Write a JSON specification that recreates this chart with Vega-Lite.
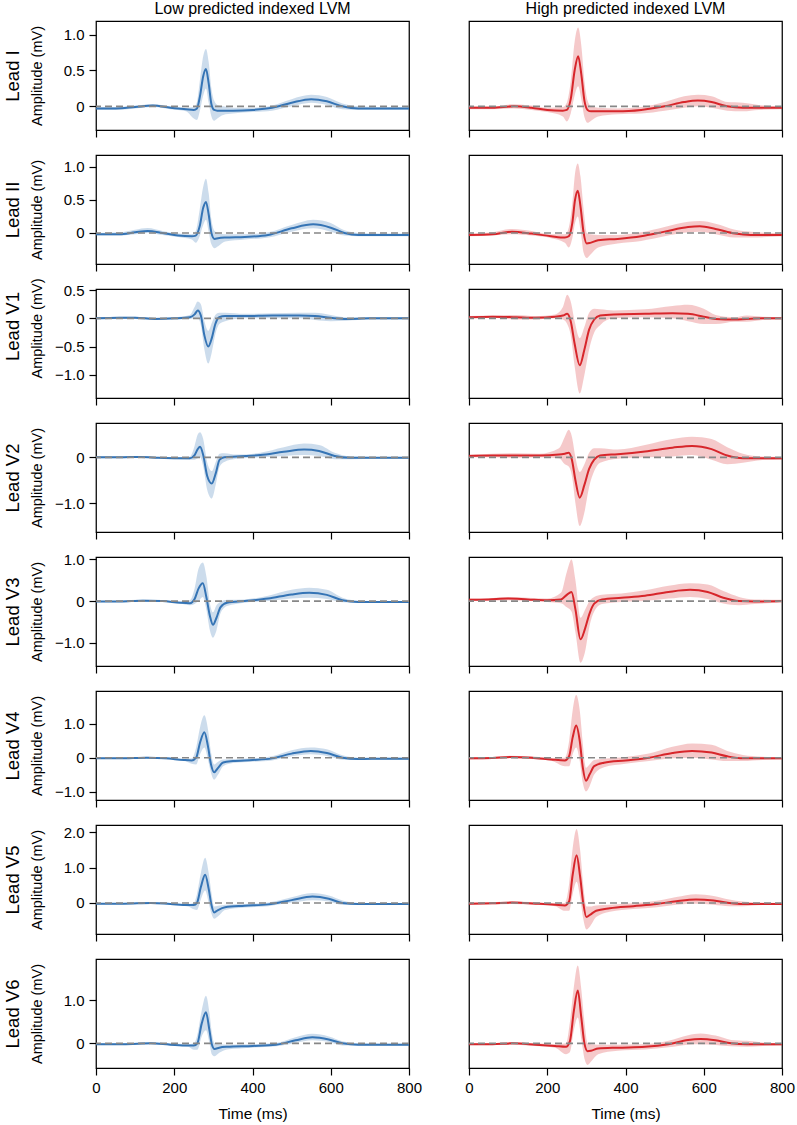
{
"$schema": "https://vega.github.io/schema/vega-lite/v6.json",
"padding": {"left": 2, "top": 0, "right": 5, "bottom": 5},
"config": {
 "font": "Liberation Sans",
 "view": {"stroke": "#000", "strokeWidth": 1.25},
 "axis": {"grid": false, "domain": false, "tickColor": "#000", "tickWidth": 1.2, "tickSize": 7, "labelColor": "#000", "labelFontSize": 15, "titleColor": "#000", "titleFontWeight": "normal", "titleFontSize": 14.5, "labelFlush": false, "labelOverlap": false, "labelPadding": 5},
 "title": {"fontSize": 16, "fontWeight": "normal", "color": "#000", "offset": 4},
 "area": {"fillOpacity": 0.25, "strokeOpacity": 0.3, "strokeWidth": 0.8, "interpolate": "monotone"},
 "line": {"strokeWidth": 2, "interpolate": "monotone"},
 "rule": {"color": "#878787", "strokeDash": [7, 4], "strokeWidth": 1.6}
},
"datasets": {
 "I_lo": [{"t":0,"m":-0.03,"lo":-0.05,"hi":-0.01},{"t":50,"m":-0.03,"lo":-0.05,"hi":-0.01},{"t":100,"m":-0.01,"lo":-0.03,"hi":0.01},{"t":145,"m":0.01,"lo":-0.01,"hi":0.03},{"t":190,"m":-0.02,"lo":-0.04,"hi":0.0},{"t":230,"m":-0.04,"lo":-0.07,"hi":-0.02},{"t":250,"m":-0.05,"lo":-0.17,"hi":-0.01},{"t":258,"m":-0.03,"lo":-0.19,"hi":0.06},{"t":266,"m":0.15,"lo":-0.05,"hi":0.38},{"t":274,"m":0.42,"lo":0.15,"hi":0.7},{"t":281,"m":0.52,"lo":0.25,"hi":0.8},{"t":288,"m":0.32,"lo":0.05,"hi":0.62},{"t":295,"m":0.03,"lo":-0.14,"hi":0.25},{"t":302,"m":-0.05,"lo":-0.2,"hi":0.08},{"t":310,"m":-0.06,"lo":-0.17,"hi":0.02},{"t":325,"m":-0.06,"lo":-0.12,"hi":0.0},{"t":350,"m":-0.06,"lo":-0.1,"hi":-0.02},{"t":400,"m":-0.05,"lo":-0.08,"hi":-0.02},{"t":450,"m":-0.02,"lo":-0.06,"hi":0.01},{"t":500,"m":0.05,"lo":0.0,"hi":0.1},{"t":550,"m":0.1,"lo":0.05,"hi":0.16},{"t":590,"m":0.07,"lo":0.02,"hi":0.13},{"t":630,"m":0.0,"lo":-0.04,"hi":0.04},{"t":670,"m":-0.03,"lo":-0.05,"hi":0.0},{"t":720,"m":-0.03,"lo":-0.05,"hi":-0.01},{"t":800,"m":-0.03,"lo":-0.05,"hi":-0.01}],
 "I_hi": [{"t":0,"m":-0.02,"lo":-0.04,"hi":0.0},{"t":60,"m":-0.02,"lo":-0.04,"hi":0.0},{"t":115,"m":0.0,"lo":-0.03,"hi":0.03},{"t":160,"m":-0.02,"lo":-0.05,"hi":0.01},{"t":200,"m":-0.05,"lo":-0.08,"hi":-0.02},{"t":240,"m":-0.06,"lo":-0.14,"hi":-0.01},{"t":250,"m":-0.05,"lo":-0.21,"hi":0.05},{"t":260,"m":0.1,"lo":-0.1,"hi":0.35},{"t":270,"m":0.5,"lo":0.15,"hi":0.9},{"t":279,"m":0.7,"lo":0.28,"hi":1.1},{"t":287,"m":0.45,"lo":0.1,"hi":0.85},{"t":295,"m":0.08,"lo":-0.15,"hi":0.35},{"t":303,"m":-0.05,"lo":-0.23,"hi":0.08},{"t":312,"m":-0.07,"lo":-0.2,"hi":0.0},{"t":330,"m":-0.07,"lo":-0.14,"hi":-0.02},{"t":380,"m":-0.07,"lo":-0.11,"hi":-0.03},{"t":440,"m":-0.05,"lo":-0.1,"hi":-0.01},{"t":500,"m":0.0,"lo":-0.06,"hi":0.06},{"t":550,"m":0.06,"lo":-0.02,"hi":0.14},{"t":585,"m":0.08,"lo":0.0,"hi":0.16},{"t":620,"m":0.06,"lo":-0.02,"hi":0.14},{"t":660,"m":0.0,"lo":-0.06,"hi":0.06},{"t":700,"m":-0.02,"lo":-0.07,"hi":0.05},{"t":740,"m":-0.02,"lo":-0.05,"hi":0.02},{"t":800,"m":-0.02,"lo":-0.04,"hi":0.0}],
 "II_lo": [{"t":0,"m":-0.02,"lo":-0.04,"hi":0.0},{"t":60,"m":-0.02,"lo":-0.04,"hi":0.01},{"t":100,"m":0.01,"lo":-0.02,"hi":0.05},{"t":132,"m":0.03,"lo":0.0,"hi":0.075},{"t":170,"m":0.0,"lo":-0.03,"hi":0.03},{"t":210,"m":-0.04,"lo":-0.06,"hi":-0.01},{"t":245,"m":-0.05,"lo":-0.1,"hi":-0.02},{"t":255,"m":-0.04,"lo":-0.15,"hi":0.03},{"t":265,"m":0.1,"lo":-0.05,"hi":0.35},{"t":274,"m":0.38,"lo":0.12,"hi":0.7},{"t":281,"m":0.47,"lo":0.2,"hi":0.82},{"t":288,"m":0.28,"lo":0.02,"hi":0.6},{"t":295,"m":0.0,"lo":-0.17,"hi":0.2},{"t":303,"m":-0.09,"lo":-0.23,"hi":0.03},{"t":312,"m":-0.08,"lo":-0.2,"hi":0.0},{"t":330,"m":-0.07,"lo":-0.13,"hi":-0.02},{"t":380,"m":-0.06,"lo":-0.1,"hi":-0.02},{"t":440,"m":-0.03,"lo":-0.07,"hi":0.01},{"t":500,"m":0.07,"lo":0.02,"hi":0.12},{"t":555,"m":0.13,"lo":0.07,"hi":0.2},{"t":600,"m":0.08,"lo":0.02,"hi":0.15},{"t":635,"m":0.0,"lo":-0.04,"hi":0.04},{"t":670,"m":-0.03,"lo":-0.05,"hi":0.0},{"t":740,"m":-0.03,"lo":-0.05,"hi":-0.01},{"t":800,"m":-0.03,"lo":-0.05,"hi":-0.01}],
 "II_hi": [{"t":0,"m":-0.03,"lo":-0.05,"hi":-0.01},{"t":60,"m":-0.02,"lo":-0.04,"hi":0.01},{"t":110,"m":0.02,"lo":-0.02,"hi":0.06},{"t":160,"m":-0.01,"lo":-0.04,"hi":0.03},{"t":210,"m":-0.05,"lo":-0.08,"hi":-0.02},{"t":245,"m":-0.07,"lo":-0.15,"hi":-0.02},{"t":255,"m":-0.05,"lo":-0.22,"hi":0.08},{"t":264,"m":0.15,"lo":-0.08,"hi":0.45},{"t":271,"m":0.5,"lo":0.15,"hi":0.9},{"t":278,"m":0.64,"lo":0.25,"hi":1.05},{"t":285,"m":0.4,"lo":0.05,"hi":0.85},{"t":293,"m":0.0,"lo":-0.3,"hi":0.35},{"t":301,"m":-0.16,"lo":-0.38,"hi":0.0},{"t":310,"m":-0.15,"lo":-0.33,"hi":-0.02},{"t":330,"m":-0.11,"lo":-0.22,"hi":-0.03},{"t":380,"m":-0.09,"lo":-0.16,"hi":-0.03},{"t":440,"m":-0.05,"lo":-0.12,"hi":0.01},{"t":500,"m":0.02,"lo":-0.05,"hi":0.09},{"t":560,"m":0.09,"lo":0.01,"hi":0.17},{"t":590,"m":0.1,"lo":0.02,"hi":0.18},{"t":630,"m":0.06,"lo":-0.02,"hi":0.14},{"t":680,"m":-0.01,"lo":-0.07,"hi":0.05},{"t":720,"m":-0.03,"lo":-0.07,"hi":0.02},{"t":800,"m":-0.03,"lo":-0.05,"hi":-0.01}],
 "V1_lo": [{"t":0,"m":0.0,"lo":-0.02,"hi":0.02},{"t":60,"m":0.01,"lo":-0.01,"hi":0.03},{"t":100,"m":0.01,"lo":-0.01,"hi":0.03},{"t":150,"m":-0.01,"lo":-0.03,"hi":0.01},{"t":200,"m":0.0,"lo":-0.02,"hi":0.02},{"t":240,"m":0.02,"lo":-0.01,"hi":0.06},{"t":252,"m":0.07,"lo":0.0,"hi":0.2},{"t":260,"m":0.14,"lo":0.0,"hi":0.3},{"t":268,"m":0.05,"lo":-0.12,"hi":0.25},{"t":277,"m":-0.3,"lo":-0.55,"hi":-0.05},{"t":287,"m":-0.5,"lo":-0.8,"hi":-0.22},{"t":296,"m":-0.35,"lo":-0.6,"hi":-0.08},{"t":305,"m":-0.1,"lo":-0.28,"hi":0.06},{"t":315,"m":0.02,"lo":-0.1,"hi":0.1},{"t":330,"m":0.04,"lo":-0.05,"hi":0.1},{"t":380,"m":0.04,"lo":0.0,"hi":0.08},{"t":450,"m":0.05,"lo":0.0,"hi":0.09},{"t":520,"m":0.05,"lo":0.0,"hi":0.1},{"t":560,"m":0.04,"lo":-0.03,"hi":0.1},{"t":600,"m":0.01,"lo":-0.05,"hi":0.06},{"t":640,"m":-0.01,"lo":-0.04,"hi":0.02},{"t":700,"m":0.0,"lo":-0.02,"hi":0.02},{"t":800,"m":0.0,"lo":-0.02,"hi":0.02}],
 "V1_hi": [{"t":0,"m":0.02,"lo":0.0,"hi":0.04},{"t":60,"m":0.03,"lo":0.01,"hi":0.05},{"t":120,"m":0.02,"lo":-0.02,"hi":0.06},{"t":170,"m":0.01,"lo":-0.02,"hi":0.04},{"t":220,"m":0.03,"lo":0.0,"hi":0.07},{"t":240,"m":0.05,"lo":-0.02,"hi":0.2},{"t":251,"m":0.08,"lo":-0.1,"hi":0.42},{"t":260,"m":-0.05,"lo":-0.3,"hi":0.3},{"t":270,"m":-0.45,"lo":-0.85,"hi":-0.05},{"t":283,"m":-0.83,"lo":-1.33,"hi":-0.35},{"t":295,"m":-0.55,"lo":-1.0,"hi":-0.15},{"t":307,"m":-0.2,"lo":-0.55,"hi":0.1},{"t":320,"m":-0.02,"lo":-0.25,"hi":0.17},{"t":335,"m":0.05,"lo":-0.12,"hi":0.16},{"t":370,"m":0.07,"lo":0.0,"hi":0.14},{"t":450,"m":0.08,"lo":0.02,"hi":0.16},{"t":520,"m":0.09,"lo":0.0,"hi":0.22},{"t":560,"m":0.08,"lo":-0.05,"hi":0.24},{"t":600,"m":0.03,"lo":-0.1,"hi":0.17},{"t":630,"m":-0.01,"lo":-0.1,"hi":0.06},{"t":680,"m":-0.02,"lo":-0.06,"hi":0.02},{"t":710,"m":-0.01,"lo":-0.06,"hi":0.05},{"t":750,"m":0.0,"lo":-0.03,"hi":0.03},{"t":800,"m":0.0,"lo":-0.02,"hi":0.02}],
 "V2_lo": [{"t":0,"m":0.0,"lo":-0.02,"hi":0.02},{"t":60,"m":0.0,"lo":-0.02,"hi":0.02},{"t":115,"m":0.01,"lo":-0.01,"hi":0.03},{"t":160,"m":-0.01,"lo":-0.03,"hi":0.01},{"t":210,"m":-0.02,"lo":-0.04,"hi":0.0},{"t":240,"m":-0.02,"lo":-0.05,"hi":0.02},{"t":252,"m":0.05,"lo":-0.05,"hi":0.25},{"t":260,"m":0.18,"lo":-0.02,"hi":0.5},{"t":266,"m":0.23,"lo":0.0,"hi":0.55},{"t":274,"m":0.05,"lo":-0.2,"hi":0.4},{"t":284,"m":-0.4,"lo":-0.7,"hi":-0.1},{"t":296,"m":-0.57,"lo":-0.9,"hi":-0.3},{"t":306,"m":-0.35,"lo":-0.6,"hi":-0.1},{"t":316,"m":-0.05,"lo":-0.2,"hi":0.08},{"t":328,"m":0.0,"lo":-0.1,"hi":0.09},{"t":360,"m":0.02,"lo":-0.03,"hi":0.06},{"t":420,"m":0.05,"lo":0.0,"hi":0.1},{"t":480,"m":0.12,"lo":0.03,"hi":0.22},{"t":532,"m":0.17,"lo":0.05,"hi":0.3},{"t":570,"m":0.14,"lo":0.03,"hi":0.27},{"t":610,"m":0.03,"lo":-0.04,"hi":0.1},{"t":650,"m":-0.01,"lo":-0.04,"hi":0.02},{"t":720,"m":-0.01,"lo":-0.03,"hi":0.01},{"t":800,"m":-0.01,"lo":-0.03,"hi":0.01}],
 "V2_hi": [{"t":0,"m":0.03,"lo":0.0,"hi":0.06},{"t":60,"m":0.04,"lo":0.0,"hi":0.08},{"t":120,"m":0.04,"lo":-0.01,"hi":0.09},{"t":180,"m":0.04,"lo":0.0,"hi":0.08},{"t":230,"m":0.06,"lo":-0.02,"hi":0.2},{"t":245,"m":0.08,"lo":-0.15,"hi":0.45},{"t":255,"m":0.1,"lo":-0.2,"hi":0.6},{"t":263,"m":-0.05,"lo":-0.4,"hi":0.45},{"t":272,"m":-0.5,"lo":-1.0,"hi":0.0},{"t":283,"m":-0.88,"lo":-1.5,"hi":-0.32},{"t":295,"m":-0.6,"lo":-1.2,"hi":-0.15},{"t":307,"m":-0.25,"lo":-0.65,"hi":0.1},{"t":320,"m":-0.05,"lo":-0.3,"hi":0.2},{"t":335,"m":0.04,"lo":-0.12,"hi":0.2},{"t":380,"m":0.07,"lo":-0.03,"hi":0.17},{"t":450,"m":0.13,"lo":0.0,"hi":0.27},{"t":520,"m":0.21,"lo":0.02,"hi":0.4},{"t":570,"m":0.25,"lo":0.05,"hi":0.45},{"t":620,"m":0.18,"lo":-0.05,"hi":0.4},{"t":660,"m":0.04,"lo":-0.15,"hi":0.22},{"t":700,"m":-0.02,"lo":-0.12,"hi":0.08},{"t":750,"m":-0.02,"lo":-0.06,"hi":0.02},{"t":800,"m":-0.02,"lo":-0.05,"hi":0.01}],
 "V3_lo": [{"t":0,"m":-0.01,"lo":-0.03,"hi":0.01},{"t":60,"m":-0.01,"lo":-0.03,"hi":0.01},{"t":120,"m":0.01,"lo":-0.01,"hi":0.04},{"t":170,"m":0.0,"lo":-0.02,"hi":0.02},{"t":215,"m":-0.04,"lo":-0.06,"hi":-0.01},{"t":240,"m":-0.05,"lo":-0.1,"hi":0.02},{"t":252,"m":0.05,"lo":-0.07,"hi":0.3},{"t":262,"m":0.3,"lo":0.0,"hi":0.78},{"t":273,"m":0.43,"lo":0.1,"hi":0.93},{"t":282,"m":0.1,"lo":-0.2,"hi":0.6},{"t":291,"m":-0.35,"lo":-0.7,"hi":-0.05},{"t":299,"m":-0.57,"lo":-0.88,"hi":-0.27},{"t":308,"m":-0.4,"lo":-0.7,"hi":-0.1},{"t":318,"m":-0.15,"lo":-0.3,"hi":-0.02},{"t":335,"m":-0.04,"lo":-0.12,"hi":0.03},{"t":380,"m":0.0,"lo":-0.04,"hi":0.04},{"t":440,"m":0.06,"lo":0.0,"hi":0.13},{"t":500,"m":0.16,"lo":0.06,"hi":0.27},{"t":545,"m":0.2,"lo":0.08,"hi":0.32},{"t":590,"m":0.15,"lo":0.05,"hi":0.27},{"t":630,"m":0.02,"lo":-0.03,"hi":0.08},{"t":670,"m":-0.02,"lo":-0.04,"hi":0.01},{"t":740,"m":-0.02,"lo":-0.04,"hi":0.0},{"t":800,"m":-0.02,"lo":-0.04,"hi":0.0}],
 "V3_hi": [{"t":0,"m":0.03,"lo":0.0,"hi":0.06},{"t":50,"m":0.04,"lo":0.01,"hi":0.07},{"t":100,"m":0.06,"lo":0.02,"hi":0.1},{"t":150,"m":0.04,"lo":0.0,"hi":0.08},{"t":200,"m":0.02,"lo":-0.02,"hi":0.06},{"t":235,"m":0.04,"lo":-0.05,"hi":0.2},{"t":250,"m":0.15,"lo":-0.15,"hi":0.7},{"t":262,"m":0.22,"lo":-0.25,"hi":1.0},{"t":272,"m":-0.2,"lo":-0.75,"hi":0.5},{"t":285,"m":-0.92,"lo":-1.48,"hi":-0.4},{"t":297,"m":-0.65,"lo":-1.2,"hi":-0.2},{"t":308,"m":-0.3,"lo":-0.6,"hi":0.0},{"t":320,"m":-0.06,"lo":-0.25,"hi":0.1},{"t":340,"m":0.04,"lo":-0.07,"hi":0.15},{"t":390,"m":0.08,"lo":-0.02,"hi":0.18},{"t":450,"m":0.13,"lo":0.0,"hi":0.26},{"t":510,"m":0.22,"lo":0.06,"hi":0.37},{"t":565,"m":0.27,"lo":0.1,"hi":0.43},{"t":610,"m":0.22,"lo":0.05,"hi":0.4},{"t":650,"m":0.08,"lo":-0.06,"hi":0.24},{"t":690,"m":0.0,"lo":-0.1,"hi":0.1},{"t":730,"m":-0.01,"lo":-0.07,"hi":0.04},{"t":800,"m":0.0,"lo":-0.04,"hi":0.03}],
 "V4_lo": [{"t":0,"m":-0.02,"lo":-0.04,"hi":0.0},{"t":60,"m":-0.02,"lo":-0.04,"hi":0.0},{"t":130,"m":0.0,"lo":-0.02,"hi":0.03},{"t":180,"m":-0.02,"lo":-0.05,"hi":0.0},{"t":225,"m":-0.07,"lo":-0.1,"hi":-0.04},{"t":245,"m":-0.08,"lo":-0.18,"hi":-0.02},{"t":256,"m":0.0,"lo":-0.2,"hi":0.3},{"t":266,"m":0.45,"lo":0.1,"hi":0.9},{"t":277,"m":0.75,"lo":0.3,"hi":1.25},{"t":286,"m":0.35,"lo":-0.05,"hi":0.85},{"t":294,"m":-0.2,"lo":-0.45,"hi":0.15},{"t":302,"m":-0.43,"lo":-0.65,"hi":-0.2},{"t":312,"m":-0.3,"lo":-0.5,"hi":-0.12},{"t":325,"m":-0.14,"lo":-0.25,"hi":-0.05},{"t":350,"m":-0.1,"lo":-0.16,"hi":-0.04},{"t":400,"m":-0.07,"lo":-0.12,"hi":-0.02},{"t":450,"m":-0.02,"lo":-0.08,"hi":0.04},{"t":500,"m":0.12,"lo":0.04,"hi":0.22},{"t":549,"m":0.2,"lo":0.1,"hi":0.3},{"t":590,"m":0.14,"lo":0.05,"hi":0.25},{"t":630,"m":0.0,"lo":-0.06,"hi":0.07},{"t":670,"m":-0.04,"lo":-0.07,"hi":0.0},{"t":740,"m":-0.03,"lo":-0.06,"hi":0.0},{"t":800,"m":-0.03,"lo":-0.05,"hi":0.0}],
 "V4_hi": [{"t":0,"m":-0.02,"lo":-0.05,"hi":0.01},{"t":60,"m":-0.01,"lo":-0.04,"hi":0.02},{"t":105,"m":0.02,"lo":-0.02,"hi":0.06},{"t":160,"m":0.0,"lo":-0.04,"hi":0.04},{"t":210,"m":-0.05,"lo":-0.09,"hi":-0.01},{"t":245,"m":-0.08,"lo":-0.25,"hi":0.0},{"t":256,"m":0.05,"lo":-0.25,"hi":0.5},{"t":265,"m":0.6,"lo":0.1,"hi":1.4},{"t":274,"m":0.95,"lo":0.3,"hi":1.85},{"t":283,"m":0.5,"lo":-0.1,"hi":1.4},{"t":291,"m":-0.3,"lo":-0.75,"hi":0.4},{"t":299,"m":-0.68,"lo":-1.0,"hi":-0.3},{"t":308,"m":-0.5,"lo":-0.85,"hi":-0.2},{"t":320,"m":-0.25,"lo":-0.5,"hi":-0.07},{"t":345,"m":-0.15,"lo":-0.28,"hi":-0.03},{"t":400,"m":-0.08,"lo":-0.18,"hi":0.02},{"t":460,"m":0.0,"lo":-0.1,"hi":0.12},{"t":520,"m":0.14,"lo":-0.02,"hi":0.32},{"t":570,"m":0.2,"lo":0.0,"hi":0.42},{"t":620,"m":0.15,"lo":-0.05,"hi":0.38},{"t":660,"m":0.04,"lo":-0.1,"hi":0.2},{"t":700,"m":-0.02,"lo":-0.1,"hi":0.08},{"t":750,"m":-0.02,"lo":-0.07,"hi":0.03},{"t":800,"m":-0.02,"lo":-0.05,"hi":0.01}],
 "V5_lo": [{"t":0,"m":-0.02,"lo":-0.04,"hi":0.0},{"t":70,"m":-0.02,"lo":-0.04,"hi":0.0},{"t":140,"m":0.0,"lo":-0.02,"hi":0.03},{"t":190,"m":-0.03,"lo":-0.05,"hi":0.0},{"t":235,"m":-0.06,"lo":-0.1,"hi":-0.03},{"t":250,"m":-0.06,"lo":-0.18,"hi":0.0},{"t":258,"m":0.0,"lo":-0.2,"hi":0.25},{"t":268,"m":0.45,"lo":0.1,"hi":0.85},{"t":279,"m":0.8,"lo":0.35,"hi":1.28},{"t":288,"m":0.4,"lo":0.0,"hi":0.85},{"t":295,"m":-0.05,"lo":-0.3,"hi":0.3},{"t":302,"m":-0.27,"lo":-0.45,"hi":-0.1},{"t":312,"m":-0.2,"lo":-0.38,"hi":-0.08},{"t":330,"m":-0.12,"lo":-0.2,"hi":-0.05},{"t":380,"m":-0.08,"lo":-0.13,"hi":-0.03},{"t":440,"m":-0.04,"lo":-0.09,"hi":0.01},{"t":500,"m":0.08,"lo":0.01,"hi":0.16},{"t":553,"m":0.18,"lo":0.08,"hi":0.28},{"t":595,"m":0.12,"lo":0.04,"hi":0.21},{"t":630,"m":0.0,"lo":-0.06,"hi":0.07},{"t":670,"m":-0.03,"lo":-0.06,"hi":0.0},{"t":740,"m":-0.03,"lo":-0.05,"hi":-0.01},{"t":800,"m":-0.03,"lo":-0.05,"hi":-0.01}],
 "V5_hi": [{"t":0,"m":-0.02,"lo":-0.05,"hi":0.01},{"t":60,"m":-0.01,"lo":-0.04,"hi":0.02},{"t":110,"m":0.01,"lo":-0.03,"hi":0.05},{"t":170,"m":-0.02,"lo":-0.05,"hi":0.02},{"t":220,"m":-0.05,"lo":-0.09,"hi":-0.01},{"t":245,"m":-0.07,"lo":-0.22,"hi":0.0},{"t":256,"m":0.05,"lo":-0.22,"hi":0.55},{"t":265,"m":0.8,"lo":0.25,"hi":1.55},{"t":275,"m":1.35,"lo":0.6,"hi":2.1},{"t":284,"m":0.75,"lo":0.15,"hi":1.5},{"t":292,"m":0.0,"lo":-0.45,"hi":0.5},{"t":300,"m":-0.4,"lo":-0.75,"hi":-0.1},{"t":310,"m":-0.33,"lo":-0.65,"hi":-0.1},{"t":325,"m":-0.22,"lo":-0.4,"hi":-0.07},{"t":360,"m":-0.15,"lo":-0.25,"hi":-0.05},{"t":420,"m":-0.09,"lo":-0.17,"hi":-0.01},{"t":480,"m":-0.03,"lo":-0.12,"hi":0.06},{"t":530,"m":0.05,"lo":-0.05,"hi":0.17},{"t":580,"m":0.1,"lo":-0.02,"hi":0.25},{"t":625,"m":0.07,"lo":-0.05,"hi":0.2},{"t":665,"m":0.0,"lo":-0.09,"hi":0.1},{"t":700,"m":-0.03,"lo":-0.09,"hi":0.04},{"t":750,"m":-0.03,"lo":-0.06,"hi":0.01},{"t":800,"m":-0.03,"lo":-0.05,"hi":0.0}],
 "V6_lo": [{"t":0,"m":-0.02,"lo":-0.04,"hi":0.0},{"t":70,"m":-0.02,"lo":-0.04,"hi":0.0},{"t":140,"m":0.0,"lo":-0.02,"hi":0.02},{"t":190,"m":-0.03,"lo":-0.05,"hi":0.0},{"t":235,"m":-0.05,"lo":-0.08,"hi":-0.02},{"t":250,"m":-0.05,"lo":-0.15,"hi":0.0},{"t":259,"m":0.0,"lo":-0.15,"hi":0.2},{"t":270,"m":0.45,"lo":0.15,"hi":0.75},{"t":281,"m":0.72,"lo":0.3,"hi":1.1},{"t":290,"m":0.3,"lo":0.0,"hi":0.7},{"t":296,"m":-0.02,"lo":-0.25,"hi":0.25},{"t":303,"m":-0.13,"lo":-0.3,"hi":0.0},{"t":315,"m":-0.1,"lo":-0.22,"hi":-0.02},{"t":335,"m":-0.08,"lo":-0.14,"hi":-0.03},{"t":400,"m":-0.06,"lo":-0.1,"hi":-0.02},{"t":460,"m":-0.03,"lo":-0.07,"hi":0.01},{"t":510,"m":0.07,"lo":0.01,"hi":0.14},{"t":553,"m":0.14,"lo":0.07,"hi":0.22},{"t":595,"m":0.09,"lo":0.03,"hi":0.16},{"t":630,"m":0.0,"lo":-0.05,"hi":0.05},{"t":670,"m":-0.03,"lo":-0.05,"hi":0.0},{"t":740,"m":-0.03,"lo":-0.05,"hi":-0.01},{"t":800,"m":-0.03,"lo":-0.05,"hi":-0.01}],
 "V6_hi": [{"t":0,"m":-0.02,"lo":-0.04,"hi":0.0},{"t":60,"m":-0.02,"lo":-0.04,"hi":0.0},{"t":110,"m":0.0,"lo":-0.03,"hi":0.03},{"t":170,"m":-0.03,"lo":-0.06,"hi":0.0},{"t":220,"m":-0.06,"lo":-0.1,"hi":-0.02},{"t":248,"m":-0.08,"lo":-0.25,"hi":0.0},{"t":258,"m":0.05,"lo":-0.2,"hi":0.5},{"t":268,"m":0.75,"lo":0.3,"hi":1.3},{"t":278,"m":1.22,"lo":0.6,"hi":1.8},{"t":287,"m":0.6,"lo":0.1,"hi":1.25},{"t":295,"m":0.0,"lo":-0.35,"hi":0.5},{"t":303,"m":-0.18,"lo":-0.5,"hi":0.0},{"t":312,"m":-0.17,"lo":-0.42,"hi":-0.02},{"t":330,"m":-0.12,"lo":-0.25,"hi":-0.03},{"t":380,"m":-0.1,"lo":-0.17,"hi":-0.03},{"t":450,"m":-0.08,"lo":-0.14,"hi":-0.02},{"t":510,"m":-0.02,"lo":-0.09,"hi":0.06},{"t":560,"m":0.08,"lo":-0.03,"hi":0.19},{"t":592,"m":0.1,"lo":-0.02,"hi":0.23},{"t":630,"m":0.07,"lo":-0.04,"hi":0.18},{"t":670,"m":0.0,"lo":-0.07,"hi":0.08},{"t":710,"m":-0.02,"lo":-0.08,"hi":0.06},{"t":750,"m":-0.02,"lo":-0.06,"hi":0.02},{"t":800,"m":-0.02,"lo":-0.05,"hi":0.0}],
 "zero": [{"z": 0}]
},
"columns": 2,
"spacing": {"row": 25, "column": 60},
"bounds": "flush",
"concat": [
 {"width": 313, "height": 109, "data": {"name": "I_lo"}, "title": {"text": "Low predicted indexed LVM"},
  "layer": [
   {"mark": {"type": "area", "color": "#3574b5"}, "encoding": {"x": {"field": "t", "type": "quantitative", "scale": {"domain": [0, 800]}, "axis": {"values": [0,200,400,600,800], "labels": false, "title": null}}, "y": {"field": "lo", "type": "quantitative", "scale": {"domain": [-0.33, 1.19], "nice": false, "zero": false}, "axis": {"values": [0, 0.5, 1], "labelExpr": "datum.value == 0 ? '0' : format(datum.value, '.1f')", "title": "Amplitude (mV)", "titleX": -54.5, "titleBaseline": "alphabetic"}}, "y2": {"field": "hi"}}},
   {"mark": {"type": "line", "color": "#3574b5"}, "encoding": {"x": {"field": "t", "type": "quantitative"}, "y": {"field": "m", "type": "quantitative", "scale": {"domain": [-0.33, 1.19], "nice": false, "zero": false}, "axis": {"orient": "left", "title": "Lead I", "labels": false, "ticks": false, "titleX": -78, "titleBaseline": "alphabetic", "titleFontSize": 18.5}}}},
   {"data": {"name": "zero"}, "mark": {"type": "rule"}, "encoding": {"y": {"field": "z", "type": "quantitative", "scale": {"domain": [-0.33, 1.19], "nice": false, "zero": false}, "axis": null}}}
  ], "resolve": {"axis": {"y": "independent"}}},
 {"width": 313, "height": 109, "data": {"name": "I_hi"}, "title": {"text": "High predicted indexed LVM"},
  "layer": [
   {"mark": {"type": "area", "color": "#d7262b"}, "encoding": {"x": {"field": "t", "type": "quantitative", "scale": {"domain": [0, 800]}, "axis": {"values": [0,200,400,600,800], "labels": false, "title": null}}, "y": {"field": "lo", "type": "quantitative", "scale": {"domain": [-0.33, 1.19], "nice": false, "zero": false}, "axis": {"values": [0, 0.5, 1], "labelExpr": "datum.value == 0 ? '0' : format(datum.value, '.1f')", "title": null}}, "y2": {"field": "hi"}}},
   {"mark": {"type": "line", "color": "#d7262b"}, "encoding": {"x": {"field": "t", "type": "quantitative"}, "y": {"field": "m", "type": "quantitative", "scale": {"domain": [-0.33, 1.19], "nice": false, "zero": false}, "axis": null}}},
   {"data": {"name": "zero"}, "mark": {"type": "rule"}, "encoding": {"y": {"field": "z", "type": "quantitative", "scale": {"domain": [-0.33, 1.19], "nice": false, "zero": false}, "axis": null}}}
  ]},
 {"width": 313, "height": 109, "data": {"name": "II_lo"},
  "layer": [
   {"mark": {"type": "area", "color": "#3574b5"}, "encoding": {"x": {"field": "t", "type": "quantitative", "scale": {"domain": [0, 800]}, "axis": {"values": [0,200,400,600,800], "labels": false, "title": null}}, "y": {"field": "lo", "type": "quantitative", "scale": {"domain": [-0.47, 1.18], "nice": false, "zero": false}, "axis": {"values": [0, 0.5, 1], "labelExpr": "datum.value == 0 ? '0' : format(datum.value, '.1f')", "title": "Amplitude (mV)", "titleX": -54.5, "titleBaseline": "alphabetic"}}, "y2": {"field": "hi"}}},
   {"mark": {"type": "line", "color": "#3574b5"}, "encoding": {"x": {"field": "t", "type": "quantitative"}, "y": {"field": "m", "type": "quantitative", "scale": {"domain": [-0.47, 1.18], "nice": false, "zero": false}, "axis": {"orient": "left", "title": "Lead II", "labels": false, "ticks": false, "titleX": -78, "titleBaseline": "alphabetic", "titleFontSize": 18.5}}}},
   {"data": {"name": "zero"}, "mark": {"type": "rule"}, "encoding": {"y": {"field": "z", "type": "quantitative", "scale": {"domain": [-0.47, 1.18], "nice": false, "zero": false}, "axis": null}}}
  ], "resolve": {"axis": {"y": "independent"}}},
 {"width": 313, "height": 109, "data": {"name": "II_hi"},
  "layer": [
   {"mark": {"type": "area", "color": "#d7262b"}, "encoding": {"x": {"field": "t", "type": "quantitative", "scale": {"domain": [0, 800]}, "axis": {"values": [0,200,400,600,800], "labels": false, "title": null}}, "y": {"field": "lo", "type": "quantitative", "scale": {"domain": [-0.47, 1.18], "nice": false, "zero": false}, "axis": {"values": [0, 0.5, 1], "labelExpr": "datum.value == 0 ? '0' : format(datum.value, '.1f')", "title": null}}, "y2": {"field": "hi"}}},
   {"mark": {"type": "line", "color": "#d7262b"}, "encoding": {"x": {"field": "t", "type": "quantitative"}, "y": {"field": "m", "type": "quantitative", "scale": {"domain": [-0.47, 1.18], "nice": false, "zero": false}, "axis": null}}},
   {"data": {"name": "zero"}, "mark": {"type": "rule"}, "encoding": {"y": {"field": "z", "type": "quantitative", "scale": {"domain": [-0.47, 1.18], "nice": false, "zero": false}, "axis": null}}}
  ]},
 {"width": 313, "height": 109, "data": {"name": "V1_lo"},
  "layer": [
   {"mark": {"type": "area", "color": "#3574b5"}, "encoding": {"x": {"field": "t", "type": "quantitative", "scale": {"domain": [0, 800]}, "axis": {"values": [0,200,400,600,800], "labels": false, "title": null}}, "y": {"field": "lo", "type": "quantitative", "scale": {"domain": [-1.41, 0.52], "nice": false, "zero": false}, "axis": {"values": [-1, -0.5, 0, 0.5], "labelExpr": "datum.value == 0 ? '0' : format(datum.value, '.1f')", "title": "Amplitude (mV)", "titleX": -54.5, "titleY": 39, "titleBaseline": "alphabetic"}}, "y2": {"field": "hi"}}},
   {"mark": {"type": "line", "color": "#3574b5"}, "encoding": {"x": {"field": "t", "type": "quantitative"}, "y": {"field": "m", "type": "quantitative", "scale": {"domain": [-1.41, 0.52], "nice": false, "zero": false}, "axis": {"orient": "left", "title": "Lead V1", "labels": false, "ticks": false, "titleX": -78, "titleY": 37, "titleBaseline": "alphabetic", "titleFontSize": 18.5}}}},
   {"data": {"name": "zero"}, "mark": {"type": "rule"}, "encoding": {"y": {"field": "z", "type": "quantitative", "scale": {"domain": [-1.41, 0.52], "nice": false, "zero": false}, "axis": null}}}
  ], "resolve": {"axis": {"y": "independent"}}},
 {"width": 313, "height": 109, "data": {"name": "V1_hi"},
  "layer": [
   {"mark": {"type": "area", "color": "#d7262b"}, "encoding": {"x": {"field": "t", "type": "quantitative", "scale": {"domain": [0, 800]}, "axis": {"values": [0,200,400,600,800], "labels": false, "title": null}}, "y": {"field": "lo", "type": "quantitative", "scale": {"domain": [-1.41, 0.52], "nice": false, "zero": false}, "axis": {"values": [-1, -0.5, 0, 0.5], "labelExpr": "datum.value == 0 ? '0' : format(datum.value, '.1f')", "title": null}}, "y2": {"field": "hi"}}},
   {"mark": {"type": "line", "color": "#d7262b"}, "encoding": {"x": {"field": "t", "type": "quantitative"}, "y": {"field": "m", "type": "quantitative", "scale": {"domain": [-1.41, 0.52], "nice": false, "zero": false}, "axis": null}}},
   {"data": {"name": "zero"}, "mark": {"type": "rule"}, "encoding": {"y": {"field": "z", "type": "quantitative", "scale": {"domain": [-1.41, 0.52], "nice": false, "zero": false}, "axis": null}}}
  ]},
 {"width": 313, "height": 109, "data": {"name": "V2_lo"},
  "layer": [
   {"mark": {"type": "area", "color": "#3574b5"}, "encoding": {"x": {"field": "t", "type": "quantitative", "scale": {"domain": [0, 800]}, "axis": {"values": [0,200,400,600,800], "labels": false, "title": null}}, "y": {"field": "lo", "type": "quantitative", "scale": {"domain": [-1.63, 0.75], "nice": false, "zero": false}, "axis": {"values": [-1, 0], "labelExpr": "datum.value == 0 ? '0' : format(datum.value, '.1f')", "title": "Amplitude (mV)", "titleX": -54.5, "titleBaseline": "alphabetic"}}, "y2": {"field": "hi"}}},
   {"mark": {"type": "line", "color": "#3574b5"}, "encoding": {"x": {"field": "t", "type": "quantitative"}, "y": {"field": "m", "type": "quantitative", "scale": {"domain": [-1.63, 0.75], "nice": false, "zero": false}, "axis": {"orient": "left", "title": "Lead V2", "labels": false, "ticks": false, "titleX": -78, "titleBaseline": "alphabetic", "titleFontSize": 18.5}}}},
   {"data": {"name": "zero"}, "mark": {"type": "rule"}, "encoding": {"y": {"field": "z", "type": "quantitative", "scale": {"domain": [-1.63, 0.75], "nice": false, "zero": false}, "axis": null}}}
  ], "resolve": {"axis": {"y": "independent"}}},
 {"width": 313, "height": 109, "data": {"name": "V2_hi"},
  "layer": [
   {"mark": {"type": "area", "color": "#d7262b"}, "encoding": {"x": {"field": "t", "type": "quantitative", "scale": {"domain": [0, 800]}, "axis": {"values": [0,200,400,600,800], "labels": false, "title": null}}, "y": {"field": "lo", "type": "quantitative", "scale": {"domain": [-1.63, 0.75], "nice": false, "zero": false}, "axis": {"values": [-1, 0], "labelExpr": "datum.value == 0 ? '0' : format(datum.value, '.1f')", "title": null}}, "y2": {"field": "hi"}}},
   {"mark": {"type": "line", "color": "#d7262b"}, "encoding": {"x": {"field": "t", "type": "quantitative"}, "y": {"field": "m", "type": "quantitative", "scale": {"domain": [-1.63, 0.75], "nice": false, "zero": false}, "axis": null}}},
   {"data": {"name": "zero"}, "mark": {"type": "rule"}, "encoding": {"y": {"field": "z", "type": "quantitative", "scale": {"domain": [-1.63, 0.75], "nice": false, "zero": false}, "axis": null}}}
  ]},
 {"width": 313, "height": 109, "data": {"name": "V3_lo"},
  "layer": [
   {"mark": {"type": "area", "color": "#3574b5"}, "encoding": {"x": {"field": "t", "type": "quantitative", "scale": {"domain": [0, 800]}, "axis": {"values": [0,200,400,600,800], "labels": false, "title": null}}, "y": {"field": "lo", "type": "quantitative", "scale": {"domain": [-1.56, 1.06], "nice": false, "zero": false}, "axis": {"values": [-1, 0, 1], "labelExpr": "datum.value == 0 ? '0' : format(datum.value, '.1f')", "title": "Amplitude (mV)", "titleX": -54.5, "titleBaseline": "alphabetic"}}, "y2": {"field": "hi"}}},
   {"mark": {"type": "line", "color": "#3574b5"}, "encoding": {"x": {"field": "t", "type": "quantitative"}, "y": {"field": "m", "type": "quantitative", "scale": {"domain": [-1.56, 1.06], "nice": false, "zero": false}, "axis": {"orient": "left", "title": "Lead V3", "labels": false, "ticks": false, "titleX": -78, "titleBaseline": "alphabetic", "titleFontSize": 18.5}}}},
   {"data": {"name": "zero"}, "mark": {"type": "rule"}, "encoding": {"y": {"field": "z", "type": "quantitative", "scale": {"domain": [-1.56, 1.06], "nice": false, "zero": false}, "axis": null}}}
  ], "resolve": {"axis": {"y": "independent"}}},
 {"width": 313, "height": 109, "data": {"name": "V3_hi"},
  "layer": [
   {"mark": {"type": "area", "color": "#d7262b"}, "encoding": {"x": {"field": "t", "type": "quantitative", "scale": {"domain": [0, 800]}, "axis": {"values": [0,200,400,600,800], "labels": false, "title": null}}, "y": {"field": "lo", "type": "quantitative", "scale": {"domain": [-1.56, 1.06], "nice": false, "zero": false}, "axis": {"values": [-1, 0, 1], "labelExpr": "datum.value == 0 ? '0' : format(datum.value, '.1f')", "title": null}}, "y2": {"field": "hi"}}},
   {"mark": {"type": "line", "color": "#d7262b"}, "encoding": {"x": {"field": "t", "type": "quantitative"}, "y": {"field": "m", "type": "quantitative", "scale": {"domain": [-1.56, 1.06], "nice": false, "zero": false}, "axis": null}}},
   {"data": {"name": "zero"}, "mark": {"type": "rule"}, "encoding": {"y": {"field": "z", "type": "quantitative", "scale": {"domain": [-1.56, 1.06], "nice": false, "zero": false}, "axis": null}}}
  ]},
 {"width": 313, "height": 109, "data": {"name": "V4_lo"},
  "layer": [
   {"mark": {"type": "area", "color": "#3574b5"}, "encoding": {"x": {"field": "t", "type": "quantitative", "scale": {"domain": [0, 800]}, "axis": {"values": [0,200,400,600,800], "labels": false, "title": null}}, "y": {"field": "lo", "type": "quantitative", "scale": {"domain": [-1.25, 1.97], "nice": false, "zero": false}, "axis": {"values": [-1, 0, 1], "labelExpr": "datum.value == 0 ? '0' : format(datum.value, '.1f')", "title": "Amplitude (mV)", "titleX": -54.5, "titleBaseline": "alphabetic"}}, "y2": {"field": "hi"}}},
   {"mark": {"type": "line", "color": "#3574b5"}, "encoding": {"x": {"field": "t", "type": "quantitative"}, "y": {"field": "m", "type": "quantitative", "scale": {"domain": [-1.25, 1.97], "nice": false, "zero": false}, "axis": {"orient": "left", "title": "Lead V4", "labels": false, "ticks": false, "titleX": -78, "titleBaseline": "alphabetic", "titleFontSize": 18.5}}}},
   {"data": {"name": "zero"}, "mark": {"type": "rule"}, "encoding": {"y": {"field": "z", "type": "quantitative", "scale": {"domain": [-1.25, 1.97], "nice": false, "zero": false}, "axis": null}}}
  ], "resolve": {"axis": {"y": "independent"}}},
 {"width": 313, "height": 109, "data": {"name": "V4_hi"},
  "layer": [
   {"mark": {"type": "area", "color": "#d7262b"}, "encoding": {"x": {"field": "t", "type": "quantitative", "scale": {"domain": [0, 800]}, "axis": {"values": [0,200,400,600,800], "labels": false, "title": null}}, "y": {"field": "lo", "type": "quantitative", "scale": {"domain": [-1.25, 1.97], "nice": false, "zero": false}, "axis": {"values": [-1, 0, 1], "labelExpr": "datum.value == 0 ? '0' : format(datum.value, '.1f')", "title": null}}, "y2": {"field": "hi"}}},
   {"mark": {"type": "line", "color": "#d7262b"}, "encoding": {"x": {"field": "t", "type": "quantitative"}, "y": {"field": "m", "type": "quantitative", "scale": {"domain": [-1.25, 1.97], "nice": false, "zero": false}, "axis": null}}},
   {"data": {"name": "zero"}, "mark": {"type": "rule"}, "encoding": {"y": {"field": "z", "type": "quantitative", "scale": {"domain": [-1.25, 1.97], "nice": false, "zero": false}, "axis": null}}}
  ]},
 {"width": 313, "height": 109, "data": {"name": "V5_lo"},
  "layer": [
   {"mark": {"type": "area", "color": "#3574b5"}, "encoding": {"x": {"field": "t", "type": "quantitative", "scale": {"domain": [0, 800]}, "axis": {"values": [0,200,400,600,800], "labels": false, "title": null}}, "y": {"field": "lo", "type": "quantitative", "scale": {"domain": [-0.88, 2.21], "nice": false, "zero": false}, "axis": {"values": [0, 1, 2], "labelExpr": "datum.value == 0 ? '0' : format(datum.value, '.1f')", "title": "Amplitude (mV)", "titleX": -54.5, "titleBaseline": "alphabetic"}}, "y2": {"field": "hi"}}},
   {"mark": {"type": "line", "color": "#3574b5"}, "encoding": {"x": {"field": "t", "type": "quantitative"}, "y": {"field": "m", "type": "quantitative", "scale": {"domain": [-0.88, 2.21], "nice": false, "zero": false}, "axis": {"orient": "left", "title": "Lead V5", "labels": false, "ticks": false, "titleX": -78, "titleBaseline": "alphabetic", "titleFontSize": 18.5}}}},
   {"data": {"name": "zero"}, "mark": {"type": "rule"}, "encoding": {"y": {"field": "z", "type": "quantitative", "scale": {"domain": [-0.88, 2.21], "nice": false, "zero": false}, "axis": null}}}
  ], "resolve": {"axis": {"y": "independent"}}},
 {"width": 313, "height": 109, "data": {"name": "V5_hi"},
  "layer": [
   {"mark": {"type": "area", "color": "#d7262b"}, "encoding": {"x": {"field": "t", "type": "quantitative", "scale": {"domain": [0, 800]}, "axis": {"values": [0,200,400,600,800], "labels": false, "title": null}}, "y": {"field": "lo", "type": "quantitative", "scale": {"domain": [-0.88, 2.21], "nice": false, "zero": false}, "axis": {"values": [0, 1, 2], "labelExpr": "datum.value == 0 ? '0' : format(datum.value, '.1f')", "title": null}}, "y2": {"field": "hi"}}},
   {"mark": {"type": "line", "color": "#d7262b"}, "encoding": {"x": {"field": "t", "type": "quantitative"}, "y": {"field": "m", "type": "quantitative", "scale": {"domain": [-0.88, 2.21], "nice": false, "zero": false}, "axis": null}}},
   {"data": {"name": "zero"}, "mark": {"type": "rule"}, "encoding": {"y": {"field": "z", "type": "quantitative", "scale": {"domain": [-0.88, 2.21], "nice": false, "zero": false}, "axis": null}}}
  ]},
 {"width": 313, "height": 109, "data": {"name": "V6_lo"},
  "layer": [
   {"mark": {"type": "area", "color": "#3574b5"}, "encoding": {"x": {"field": "t", "type": "quantitative", "scale": {"domain": [0, 800]}, "axis": {"values": [0,200,400,600,800], "title": "Time (ms)", "titlePadding": 11, "titleFontSize": 15.5}}, "y": {"field": "lo", "type": "quantitative", "scale": {"domain": [-0.57, 1.95], "nice": false, "zero": false}, "axis": {"values": [0, 1], "labelExpr": "datum.value == 0 ? '0' : format(datum.value, '.1f')", "title": "Amplitude (mV)", "titleX": -54.5, "titleBaseline": "alphabetic"}}, "y2": {"field": "hi"}}},
   {"mark": {"type": "line", "color": "#3574b5"}, "encoding": {"x": {"field": "t", "type": "quantitative"}, "y": {"field": "m", "type": "quantitative", "scale": {"domain": [-0.57, 1.95], "nice": false, "zero": false}, "axis": {"orient": "left", "title": "Lead V6", "labels": false, "ticks": false, "titleX": -78, "titleBaseline": "alphabetic", "titleFontSize": 18.5}}}},
   {"data": {"name": "zero"}, "mark": {"type": "rule"}, "encoding": {"y": {"field": "z", "type": "quantitative", "scale": {"domain": [-0.57, 1.95], "nice": false, "zero": false}, "axis": null}}}
  ], "resolve": {"axis": {"y": "independent"}}},
 {"width": 313, "height": 109, "data": {"name": "V6_hi"},
  "layer": [
   {"mark": {"type": "area", "color": "#d7262b"}, "encoding": {"x": {"field": "t", "type": "quantitative", "scale": {"domain": [0, 800]}, "axis": {"values": [0,200,400,600,800], "title": "Time (ms)", "titlePadding": 11, "titleFontSize": 15.5}}, "y": {"field": "lo", "type": "quantitative", "scale": {"domain": [-0.57, 1.95], "nice": false, "zero": false}, "axis": {"values": [0, 1], "labelExpr": "datum.value == 0 ? '0' : format(datum.value, '.1f')", "title": null}}, "y2": {"field": "hi"}}},
   {"mark": {"type": "line", "color": "#d7262b"}, "encoding": {"x": {"field": "t", "type": "quantitative"}, "y": {"field": "m", "type": "quantitative", "scale": {"domain": [-0.57, 1.95], "nice": false, "zero": false}, "axis": null}}},
   {"data": {"name": "zero"}, "mark": {"type": "rule"}, "encoding": {"y": {"field": "z", "type": "quantitative", "scale": {"domain": [-0.57, 1.95], "nice": false, "zero": false}, "axis": null}}}
  ]}
]
}
